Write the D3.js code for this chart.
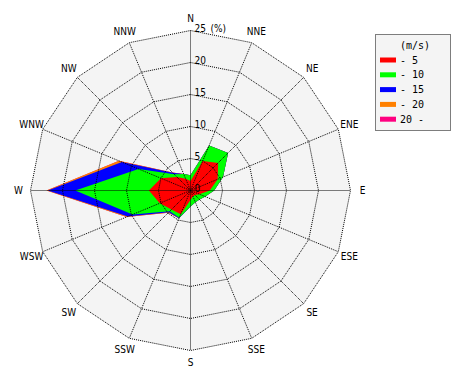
<!DOCTYPE html>
<html><head><meta charset="utf-8">
<script src="https://cdn.jsdelivr.net/npm/d3@7"></script>
<style>body{margin:0;background:#fff}svg{display:block}</style>
</head><body>
<svg id="c" width="470" height="380"></svg>
<script>
const directions = ["N","NNE","NE","ENE","E","ESE","SE","SSE","S","SSW","SW","WSW","W","WNW","NW","NNW"];
// cumulative frequency (%) by wind-speed class, per direction
const upTo5  = [1.5, 5.0, 6.1, 4.6, 3.0, 1.5, 1.0, 1.0, 1.5, 4.0, 4.2, 5.2, 6.5, 5.0, 3.0, 2.0];
const upTo10 = [2.4, 7.6, 8.3, 5.5, 3.7, 2.5, 2.0, 2.0, 2.5, 4.6, 4.6, 9.8, 18.0, 8.8, 3.6, 2.8];
const upTo15 = [2.4, 7.6, 8.3, 5.5, 3.7, 2.5, 2.0, 2.0, 2.5, 4.7, 4.8, 10.6, 22.3, 11.6, 3.9, 2.8];
const upTo20 = [2.4, 7.6, 8.3, 5.5, 3.7, 2.5, 2.0, 2.0, 2.5, 4.7, 4.9, 10.8, 22.5, 12.1, 4.0, 2.8];
const over20 = [2.4, 7.6, 8.3, 5.5, 3.7, 2.5, 2.0, 2.0, 2.5, 4.7, 4.9, 10.8, 22.5, 12.1, 4.0, 2.8];
const seriesNames = ["- 5","- 10","- 15","- 20","20 -"];
const seriesColors = ["#ff0000","#00ff00","#0000ff","#ff8000","#ff0080"];
const ringTicks = [0,5,10,15,20,25];

const svg = d3.select("#c");
const cx = 190.5, cy = 190.5;
const r = d3.scaleLinear().domain([0,25]).range([0,160]);
const n = directions.length;
const ang = i => i * 2 * Math.PI / n;
const radial = d3.lineRadial().angle((d,i)=>ang(i)).radius(d=>r(d)).curve(d3.curveLinearClosed);
const g = svg.append("g").attr("transform",`translate(${cx},${cy})`);

// background
g.append("path").attr("d", radial(directions.map(()=>25))).attr("fill","#f4f4f4");

// data polygons, largest first
const series = [upTo5, upTo10, upTo15, upTo20, over20];
for (let k = series.length-1; k >= 0; k--) {
  g.append("path").attr("d", radial(series[k])).attr("fill", seriesColors[k]).attr("stroke","none");
}

// grid
const grid = g.append("g").attr("fill","none").attr("stroke","#000").attr("stroke-width",1).attr("stroke-dasharray","1,1");
ringTicks.filter(t=>t>0).forEach(t=>{
  grid.append("path").attr("d", radial(directions.map(()=>t)));
});
directions.forEach((d,i)=>{
  const a = ang(i);
  grid.append("line").attr("x1",0).attr("y1",0)
    .attr("x2", r(25)*Math.sin(a)).attr("y2", -r(25)*Math.cos(a));
});

// direction labels
const lblFont = "'Liberation Sans Narrow','DejaVu Sans Condensed','Liberation Sans',sans-serif";
directions.forEach((d,i)=>{
  const a = ang(i), rr = 172;
  g.append("text").attr("x", rr*Math.sin(a)).attr("y", -rr*Math.cos(a))
    .attr("text-anchor","middle").attr("dominant-baseline","central")
    .attr("font-family", lblFont).attr("font-size", 10).attr("fill","#000").text(d);
});

// ring tick labels
ringTicks.forEach(t=>{
  g.append("text").attr("x", 4).attr("y", -r(t)+1)
    .attr("font-family", lblFont).attr("font-size", 10).attr("fill","#000").text(t);
});
g.append("text").attr("x", 20).attr("y", -r(25)+1)
  .attr("font-family", lblFont).attr("font-size", 10).attr("fill","#000").text("(%)");

// legend
const lg = svg.append("g");
lg.append("rect").attr("x",375.5).attr("y",34.5).attr("width",75).attr("height",96)
  .attr("fill","#f4f4f4").attr("stroke","#000").attr("stroke-dasharray","1,1");
const monoFont = "'DejaVu Sans Mono','Liberation Mono',monospace";
lg.append("text").attr("x",400).attr("y",49).attr("font-family",monoFont).attr("font-size",10).text("(m/s)");
seriesNames.forEach((s,i)=>{
  const yc = 60 + i*14.8;
  lg.append("rect").attr("x",380).attr("y",yc-2.5).attr("width",16).attr("height",5).attr("fill",seriesColors[i]);
  lg.append("text").attr("x",400).attr("y",yc+3.5).attr("font-family",monoFont).attr("font-size",10).text(s);
});
</script>
</body></html>
